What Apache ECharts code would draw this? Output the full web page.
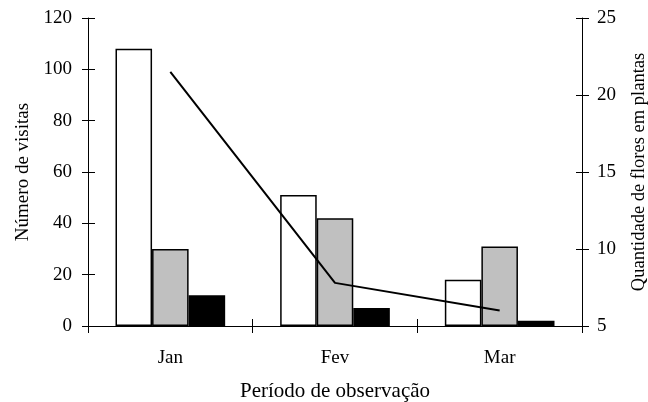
<!DOCTYPE html>
<html>
<head>
<meta charset="utf-8">
<script src="https://cdn.jsdelivr.net/npm/echarts@6/dist/echarts.min.js"></script>
<style>html,body{margin:0;padding:0;background:#fff;}#c{width:648px;height:402px;}</style>
</head>
<body>
<div id="c"></div>
<script>
const categories = ['Jan', 'Fev', 'Mar'];
const visitsA = [108, 51, 18];
const visitsB = [30, 42, 31];
const visitsC = [12, 7, 2];
const flowers = [21.5, 7.8, 6.0];

const font = 'Liberation Serif';
const chart = echarts.init(document.getElementById('c'));
const axisLine = {show: true, lineStyle: {color: '#000', width: 1}};
const tickStyle = {color: '#000', width: 1};
const barBase = {type: 'bar', xAxisIndex: 0, yAxisIndex: 0, barWidth: '22.2%', barGap: '0%'};
chart.setOption({
  animation: false,
  backgroundColor: '#fff',
  grid: {left: 88, right: 66, top: 18, bottom: 76, containLabel: false, outerBoundsMode: 'none'},
  xAxis: [
    {type: 'category', data: categories, position: 'bottom', boundaryGap: true,
     axisLine: axisLine, axisTick: {show: true, length: 7, lineStyle: tickStyle},
     axisLabel: {color: '#000', fontFamily: font, fontSize: 19, margin: 23},
     name: 'Período de observação', nameLocation: 'middle', nameGap: 55,
     nameTextStyle: {color: '#000', fontFamily: font, fontSize: 21}},
    {type: 'category', data: categories, position: 'bottom', boundaryGap: true,
     axisLine: {show: false}, axisTick: {show: true, inside: true, length: 7, lineStyle: tickStyle},
     axisLabel: {show: false}}
  ],
  yAxis: [
    {type: 'value', position: 'left', min: 0, max: 120, interval: 20,
     axisLine: axisLine, axisTick: {show: true, length: 6, lineStyle: tickStyle},
     splitLine: {show: false},
     axisLabel: {color: '#000', fontFamily: font, fontSize: 19, margin: 16},
     name: 'Número de visitas', nameLocation: 'middle', nameGap: 54, nameRotate: 90,
     nameTextStyle: {color: '#000', fontFamily: font, fontSize: 19}},
    {type: 'value', position: 'right', min: 5, max: 25, interval: 5,
     axisLine: axisLine, axisTick: {show: true, length: 7, lineStyle: tickStyle},
     splitLine: {show: false},
     axisLabel: {color: '#000', fontFamily: font, fontSize: 19, margin: 15},
     name: 'Quantidade de flores em plantas', nameLocation: 'middle', nameGap: 48, nameRotate: 90,
     nameTextStyle: {color: '#000', fontFamily: font, fontSize: 18.5}},
    {type: 'value', position: 'left', min: 0, max: 120, interval: 20,
     axisLine: {show: false}, axisTick: {show: true, inside: true, length: 7, lineStyle: tickStyle},
     splitLine: {show: false}, axisLabel: {show: false}},
    {type: 'value', position: 'right', min: 5, max: 25, interval: 5,
     axisLine: {show: false}, axisTick: {show: true, inside: true, length: 6, lineStyle: tickStyle},
     splitLine: {show: false}, axisLabel: {show: false}}
  ],
  series: [
    Object.assign({}, barBase, {data: visitsA, itemStyle: {color: '#fff', borderColor: '#000', borderWidth: 1.5}}),
    Object.assign({}, barBase, {data: visitsB, itemStyle: {color: '#c0c0c0', borderColor: '#000', borderWidth: 1.5}}),
    Object.assign({}, barBase, {data: visitsC, itemStyle: {color: '#000', borderColor: '#000', borderWidth: 1.5}}),
    {type: 'line', xAxisIndex: 0, yAxisIndex: 1, data: flowers, symbol: 'none',
     lineStyle: {color: '#000', width: 2}, z: 5}
  ]
});
</script>
</body>
</html>
